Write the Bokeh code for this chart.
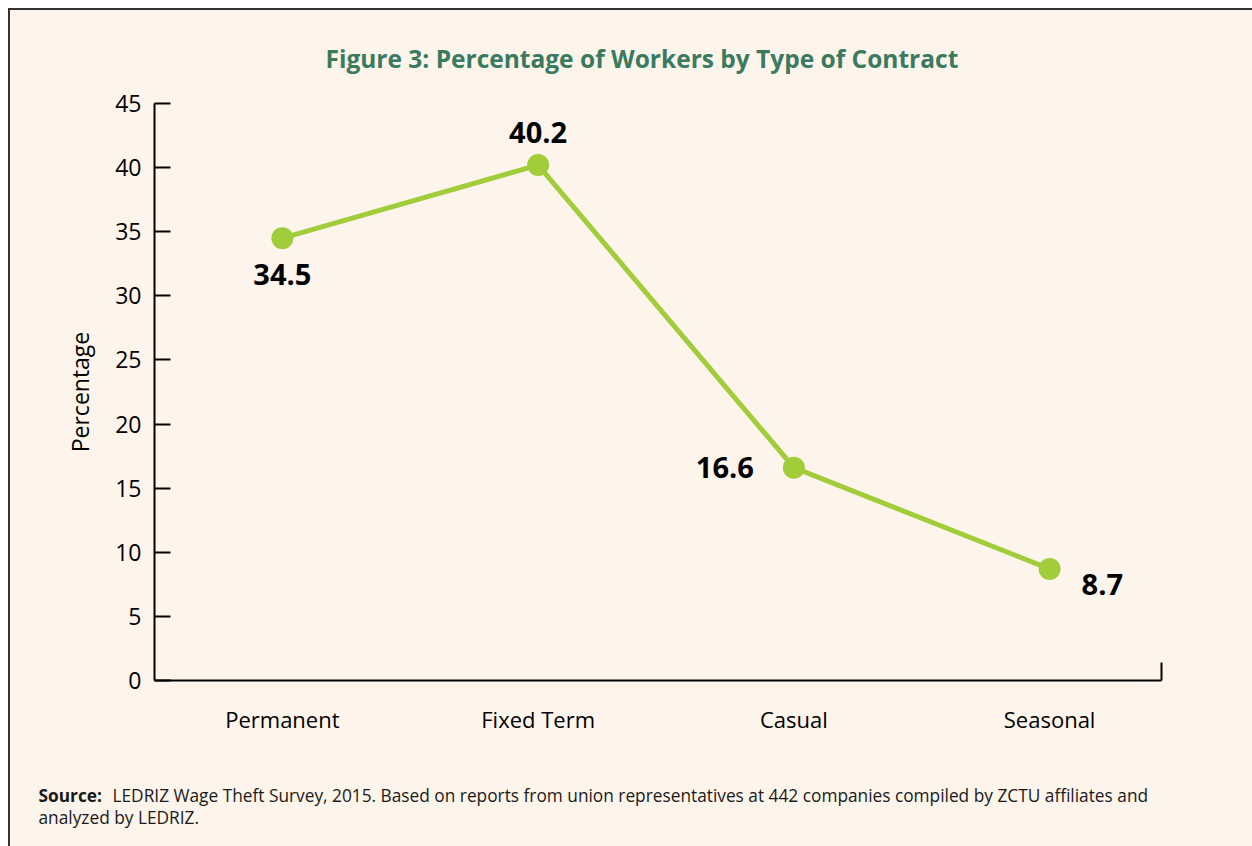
from bokeh.plotting import figure
from bokeh.layouts import column
from bokeh.models import ColumnDataSource, FixedTicker, Label, Title, Range1d, Plot
from bokeh.core.properties import value
from bokeh.embed import file_html
from bokeh.resources import INLINE

# ---- data ----
categories = ["Permanent", "Fixed Term", "Casual", "Seasonal"]
percentages = [34.5, 40.2, 16.6, 8.7]
value_labels = ["34.5", "40.2", "16.6", "8.7"]
y_ticks = [0, 5, 10, 15, 20, 25, 30, 35, 40, 45]
title_text = "Figure 3: Percentage of Workers by Type of Contract"
y_label = "Percentage"
source_bold = "Source:"
source_line1 = "LEDRIZ Wage Theft Survey, 2015. Based on reports from union representatives at 442 companies compiled by ZCTU affiliates and"
source_line2 = "analyzed by LEDRIZ."

# ---- styles ----
BG = "#fdf4eb"
GREEN = "#a2cd3a"
TITLE_COL = "#3a7a5f"
FONT = "Open Sans"
label_dx = [0, 0, -40, 32]
label_dy = [36, -33, 0, 16]
label_align = ["center", "center", "right", "left"]

xs = list(range(len(categories)))
src = ColumnDataSource(dict(x=xs, y=percentages, lab=value_labels,
                            dx=label_dx, dy=label_dy, al=label_align))

p = figure(width=1242, height=760, output_backend="svg", toolbar_location=None,
           x_range=Range1d(-0.5, 3.4375), y_range=Range1d(0, 45),
           min_border_left=144, min_border_right=91, min_border_top=93,
           min_border_bottom=90)
p.background_fill_color = BG
p.border_fill_color = BG
p.outline_line_color = None
p.grid.visible = False

p.line("x", "y", source=src, line_color=GREEN, line_width=5)
p.scatter("x", "y", source=src, size=22, fill_color=GREEN, line_color=None)
p.text("x", "y", text="lab", source=src, x_offset="dx", y_offset="dy",
       text_align="al", text_baseline="middle", text_font=value(FONT),
       text_font_style="bold", text_font_size="29px", text_color="black")

# title
t = Title(text=title_text, align="left", text_font=FONT, text_font_size="24.5px",
          text_font_style="bold", text_color=TITLE_COL, standoff=58, offset=171)
p.add_layout(t, "above")

# axes
ya = p.yaxis[0]
ya.ticker = FixedTicker(ticks=y_ticks)
ya.axis_label = y_label
ya.axis_label_text_font = FONT
ya.axis_label_text_font_style = "normal"
ya.axis_label_text_font_size = "23px"
ya.axis_label_text_color = "black"
ya.axis_label_standoff = 16
ya.major_label_text_font = FONT
ya.major_label_text_font_size = "23px"
ya.major_label_text_color = "black"
ya.major_label_standoff = 13
ya.major_tick_in = 16
ya.major_tick_out = 0
ya.minor_tick_in = 0
ya.minor_tick_out = 0
ya.axis_line_width = 2
ya.major_tick_line_width = 2
ya.axis_line_color = "black"
ya.major_tick_line_color = "black"

xa = p.xaxis[0]
xa.ticker = FixedTicker(ticks=xs, minor_ticks=[3.4375])
xa.major_label_overrides = {i: c for i, c in enumerate(categories)}
xa.major_label_text_font = FONT
xa.major_label_text_font_size = "22px"
xa.major_label_text_color = "black"
xa.major_label_standoff = 23
xa.major_tick_in = 0
xa.major_tick_out = 0
xa.minor_tick_in = 18
xa.minor_tick_out = 0
xa.minor_tick_line_width = 2
xa.minor_tick_line_color = "black"
xa.axis_line_width = 2
xa.axis_line_color = "black"

# source note: a second svg figure with text only
note = figure(width=1242, height=76, output_backend="svg", toolbar_location=None,
              x_range=Range1d(0, 1), y_range=Range1d(0, 1),
              min_border=0, min_border_left=0, min_border_right=0,
              min_border_top=0, min_border_bottom=0)
if "frame_align" in Plot.properties():
    note.frame_align = False
    p.frame_align = False
note.axis.visible = False
note.grid.visible = False
note.outline_line_color = None
note.background_fill_color = BG
note.border_fill_color = BG
fs = "17.3px"
l1 = Label(x=28, y=51, x_units="screen", y_units="screen", text=source_bold,
           text_font=FONT, text_font_style="bold", text_font_size=fs,
           text_color="#1a1a1a", text_baseline="middle")
l2 = Label(x=102, y=51, x_units="screen", y_units="screen", text=source_line1,
           text_font=FONT, text_font_size=fs, text_color="#1a1a1a",
           text_baseline="middle")
l3 = Label(x=28, y=29, x_units="screen", y_units="screen", text=source_line2,
           text_font=FONT, text_font_size=fs, text_color="#1a1a1a",
           text_baseline="middle")
for l in (l1, l2, l3):
    note.add_layout(l)

layout = column(p, note, spacing=0,
                styles={"margin-left": "8px", "margin-top": "8px",
                        "border-left": "2px solid #333333",
                        "border-top": "2px solid #333333",
                        "background-color": BG})

open("out.html", "w").write(file_html(layout, INLINE))
